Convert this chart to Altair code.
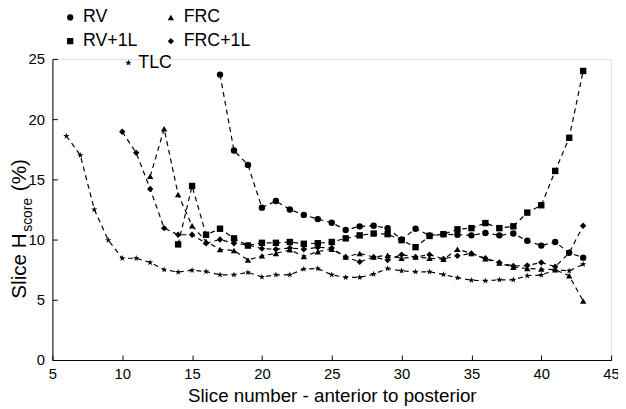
import altair as alt
import pandas as pd

FONT = "Liberation Sans"

# slice numbers (x) for each series
rv_slices = list(range(17, 44))
rv1l_slices = list(range(14, 44))
frc_slices = list(range(12, 44))
frc1l_slices = list(range(10, 44))
tlc_slices = list(range(6, 44))

# Slice H_score (%) values
rv = [23.7, 17.4, 16.2, 12.65, 13.2, 12.5, 12.05, 11.7, 11.4, 10.8, 11.1, 11.15, 10.95, 10.0,
      10.9, 10.35, 10.45, 10.4, 10.35, 10.55, 10.35, 10.5, 9.9, 9.5, 9.8, 8.9, 8.5]
rv1l = [9.6, 14.45, 10.4, 10.9, 10.1, 9.5, 9.73, 9.73, 9.8, 9.65, 9.7, 9.8, 10.1, 10.35, 10.5,
        10.45, 9.95, 9.37, 10.3, 10.45, 10.85, 10.95, 11.37, 10.95, 11.1, 12.24, 12.85, 15.7,
        18.45, 24.0]
frc = [15.25, 19.2, 13.75, 11.15, 9.85, 9.18, 9.1, 8.3, 8.65, 8.85, 9.15, 8.6, 9.0, 9.2,
       8.55, 8.85, 8.55, 8.7, 8.45, 8.55, 8.45, 8.36, 9.2, 8.85, 8.4, 8.05, 7.7, 7.6, 7.55,
       7.5, 7.0, 4.9]
frc1l = [18.95, 17.2, 14.2, 10.95, 10.4, 10.4, 9.7, 10.0, 9.7, 9.55, 9.25, 9.2, 9.3, 9.2,
         9.35, 9.3, 8.55, 8.15, 8.55, 8.3, 8.75, 8.55, 8.75, 8.4, 8.65, 8.85, 8.45, 8.1, 7.8,
         7.85, 8.1, 7.75, 8.9, 11.15]
tlc = [18.6, 17.0, 12.5, 9.95, 8.45, 8.45, 8.1, 7.5, 7.3, 7.45, 7.35, 7.07, 7.07, 7.27, 6.9,
       7.07, 7.07, 7.55, 7.6, 7.07, 6.86, 6.86, 7.13, 7.6, 7.4, 7.32, 7.32, 7.1, 6.83, 6.62,
       6.58, 6.66, 6.66, 7.0, 7.05, 7.5, 7.4, 7.95]

# legend order (column-major in a 2-column legend): RV, RV+1L | FRC, FRC+1L
main_names = ["RV", "RV+1L", "FRC", "FRC+1L"]
main_shapes = ["circle", "square", "triangle-up", "diamond"]
STAR = ("M0,-1L0.2245,-0.309L0.951,-0.309L0.363,0.118L0.588,0.809L0,0.382"
        "L-0.588,0.809L-0.363,0.118L-0.951,-0.309L-0.2245,-0.309Z")
x_ticks = [5, 10, 15, 20, 25, 30, 35, 40, 45]
y_ticks = [0, 5, 10, 15, 20, 25]

rows = []
for name, xs, ys in [("RV", rv_slices, rv), ("FRC", frc_slices, frc),
                     ("RV+1L", rv1l_slices, rv1l), ("FRC+1L", frc1l_slices, frc1l),
                     ("TLC", tlc_slices, tlc)]:
    for xv, yv in zip(xs, ys):
        rows.append({"series": name, "slice": xv, "value": yv})
df = pd.DataFrame(rows)
df_main = df[df["series"] != "TLC"].reset_index(drop=True)
df_tlc = df[df["series"] == "TLC"].reset_index(drop=True)

W, H = 566, 305
xscale = alt.Scale(domain=[5, 45], nice=False, zero=False)
yscale = alt.Scale(domain=[0, 25], nice=False)

X = alt.X("slice:Q", scale=xscale,
          axis=alt.Axis(orient="bottom", values=x_ticks, ticks=False,
                        grid=False, domainColor="black",
                        labelFontSize=15, labelFont=FONT, labelColor="black",
                        labelFlush=False, labelPadding=7,
                        title="Slice number - anterior to posterior",
                        titleFontSize=19, titleFont=FONT, titleFontWeight="normal",
                        titleColor="black", titlePadding=5))
Y = alt.Y("value:Q", scale=yscale,
          axis=alt.Axis(orient="left", values=y_ticks, ticks=False,
                        grid=False, domainColor="black",
                        labelFontSize=15, labelFont=FONT, labelColor="black",
                        labelPadding=8, title=None))
Xn = alt.X("slice:Q", scale=xscale, axis=None)
Yn = alt.Y("value:Q", scale=yscale, axis=None)

lines = alt.Chart(df).mark_line(strokeDash=[5, 4], color="black", strokeWidth=1.2).encode(
    x=X, y=Y, detail="series:N")

pts_main = alt.Chart(df_main).mark_point(filled=True, color="black", opacity=1, size=42).encode(
    x=Xn, y=Yn,
    shape=alt.Shape("series:N", scale=alt.Scale(domain=main_names, range=main_shapes),
                    legend=alt.Legend(orient="none", legendX=9, legendY=-51, columns=2,
                                      columnPadding=24, rowPadding=6, padding=0,
                                      labelFontSize=18, labelFont=FONT, labelColor="black",
                                      symbolSize=40, symbolFillColor="black",
                                      symbolStrokeColor="black", labelOffset=4, title=None)))

pts_tlc = alt.Chart(df_tlc).mark_point(filled=True, color="black", opacity=1, size=45).encode(
    x=Xn, y=Yn,
    shape=alt.Shape("series:N", scale=alt.Scale(domain=["TLC"], range=[STAR]),
                    legend=alt.Legend(orient="none", legendX=68, legendY=-5, padding=0,
                                      labelFontSize=18, labelFont=FONT, labelColor="black",
                                      symbolSize=45, symbolFillColor="black",
                                      symbolStrokeColor="black", labelOffset=1, title=None)))

# invisible layer that carries inward-pointing tick marks (top/right axes moved onto the frame)
tick_layer = alt.Chart(df).mark_point(opacity=0).encode(
    x=alt.X("slice:Q", scale=xscale,
            axis=alt.Axis(orient="top", offset=-H, values=x_ticks, labels=False, domain=False,
                          grid=False, ticks=True, tickSize=5, tickColor="black", title=None)),
    y=alt.Y("value:Q", scale=yscale,
            axis=alt.Axis(orient="right", offset=-W, values=y_ticks, labels=False, domain=False,
                          grid=False, ticks=True, tickSize=5, tickColor="black", title=None)))

# y-axis title "Slice H_score (%)" with subscript
t1 = alt.Chart(pd.DataFrame({"t": ["Slice H"]})).mark_text(
    angle=270, fontSize=21, font=FONT, align="left", baseline="middle", color="black").encode(
    x=alt.value(-33), y=alt.value(243), text="t:N")
t2 = alt.Chart(pd.DataFrame({"t": ["score"]})).mark_text(
    angle=270, fontSize=14, font=FONT, align="left", baseline="middle", color="black").encode(
    x=alt.value(-25), y=alt.value(175), text="t:N")
t3 = alt.Chart(pd.DataFrame({"t": ["(%)"]})).mark_text(
    angle=270, fontSize=21, font=FONT, align="left", baseline="middle", color="black").encode(
    x=alt.value(-33), y=alt.value(134), text="t:N")

chart = alt.layer(lines, pts_main, pts_tlc, tick_layer, t1, t2, t3).resolve_scale(
    shape="independent").resolve_axis(x="independent", y="independent").properties(
    width=W, height=H,
    padding={"left": 45, "top": 49, "right": 7, "bottom": 44},
    autosize=alt.AutoSizeParams(type="none"),
).configure_view(stroke=None).configure(font=FONT)

chart.save("out.html", embed_options={"renderer": "svg", "actions": False})
